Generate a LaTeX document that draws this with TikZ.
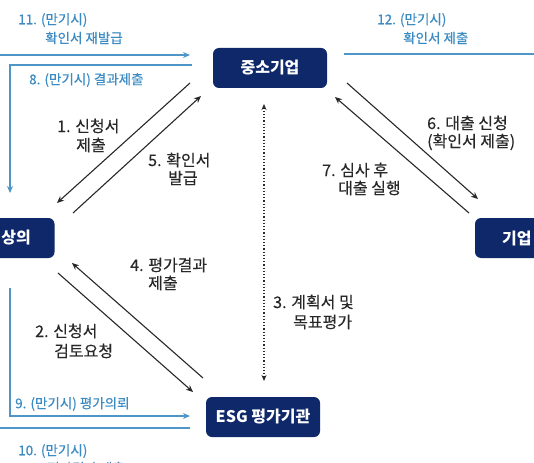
\documentclass[tikz,border=0pt]{standalone}
\usepackage{fontspec}
\setmainfont{Noto Sans CJK KR}
\newfontfamily\labfont{Noto Sans CJK KR}[FakeBold=0.3]
\usetikzlibrary{arrows.meta}
\definecolor{navy}{RGB}{14,40,105}
\definecolor{lblue}{RGB}{78,150,200}
\definecolor{tblue}{RGB}{60,140,195}
\definecolor{ink}{RGB}{40,40,40}
\tikzset{
  box/.style={fill=navy, rounded corners=6pt, minimum width=114pt, minimum height=40pt, text=white, font=\fontsize{16}{18}\selectfont\bfseries, inner sep=0pt},
  boxtext/.style={text=white, font=\fontsize{16}{18}\selectfont\bfseries, inner sep=0pt},
  lbl/.style={text=ink, font=\fontsize{16}{18}\selectfont\labfont, inner sep=0pt, anchor=west},
  blbl/.style={text=tblue, font=\fontsize{13.5}{16}\selectfont\labfont, inner sep=0pt, anchor=west},
  conn/.style={draw=ink, line width=1.1pt, -{Stealth[length=7pt,width=6pt]}},
  bconn/.style={draw=lblue, line width=1.4pt},
  barrow/.style={bconn, -{Stealth[length=7pt,width=6pt]}},
  dots/.style={draw=ink, line width=1.2pt, dotted, {Stealth[length=6pt,width=5pt]}-{Stealth[length=6pt,width=5pt]}}
}
\begin{document}
\begin{tikzpicture}[x=1pt,y=-1pt]
\useasboundingbox (0,0) rectangle (534,462);
\clip (0,0) rectangle (534,462);
\fill[white] (0,0) rectangle (534,462);

% nodes
\node[box] (sme) at (270,68) {중소기업};
\node[box, minimum width=115pt] (kcci) at (-3,238) {};
\node[boxtext, anchor=east] (kccit) at (31,238) {상의};
\node[box] (bank) at (532,238) {};
\node[boxtext, anchor=west] (bankt) at (502,238) {기업};
\node[box] (esg) at (263,417) {ESG 평가기관};

% coordinates
\coordinate (a1s) at (190,83);  \coordinate (a1e) at (57,203);
\coordinate (a5s) at (73,213);  \coordinate (a5e) at (201,96);
\coordinate (a4s) at (203,378); \coordinate (a4e) at (72,263);
\coordinate (a2s) at (58,273);  \coordinate (a2e) at (193,392);
\coordinate (a6s) at (347,83);  \coordinate (a6e) at (478,199);
\coordinate (a7s) at (469,213); \coordinate (a7e) at (335,97);
\coordinate (d1) at (264,104);  \coordinate (d2) at (264,381);
\coordinate (b11s) at (0,55);   \coordinate (b11e) at (190,55);
\coordinate (b8s) at (192,65);  \coordinate (b8c) at (10,65);  \coordinate (b8e) at (10,193);
\coordinate (b9s) at (10,288);  \coordinate (b9c) at (10,416); \coordinate (b9e) at (190,416);
\coordinate (b10s) at (0,428);  \coordinate (b10e) at (190,428);
\coordinate (b12s) at (344,54); \coordinate (b12e) at (534,54);

% black connectors
\draw[conn] (a1s) -- (a1e);
\draw[conn] (a5s) -- (a5e);
\draw[conn] (a4s) -- (a4e);
\draw[conn] (a2s) -- (a2e);
\draw[conn] (a6s) -- (a6e);
\draw[conn] (a7s) -- (a7e);
\draw[dots] (d1) -- (d2);

% blue connectors
\draw[barrow] (b11s) -- (b11e);
\draw[barrow] (b8s) -- (b8c) -- (b8e);
\draw[barrow] (b9s) -- (b9c) -- (b9e);
\draw[bconn] (b10s) -- (b10e);
\draw[bconn] (b12s) -- (b12e);

% blue labels
\node[blbl] (t11a) at (18,20) {11. (만기시)};
\node[blbl] (t11b) at (45,38) {확인서 재발급};
\node[blbl] (t8) at (29,80) {8. (만기시) 결과제출};
\node[blbl] (t12a) at (377,20) {12. (만기시)};
\node[blbl] (t12b) at (403,38) {확인서 제출};
\node[blbl] (t9) at (15,404) {9. (만기시) 평가의뢰};
\node[blbl] (t10a) at (18,451) {10. (만기시)};
\node[blbl] (t10b) at (47,468) {평가결과 제출};

% black labels
\node[lbl] (t1a) at (57,126) {1. 신청서};
\node[lbl] (t1b) at (76,145) {제출};
\node[lbl] (t5a) at (148,160) {5. 확인서};
\node[lbl] (t5b) at (168,178) {발급};
\node[lbl] (t4a) at (130,265) {4. 평가결과};
\node[lbl] (t4b) at (148,283) {제출};
\node[lbl] (t2a) at (35,331) {2. 신청서};
\node[lbl] (t2b) at (54,351) {검토요청};
\node[lbl] (t3a) at (273,302) {3. 계획서 및};
\node[lbl] (t3b) at (293,322) {목표평가};
\node[lbl] (t6a) at (427,123) {6. 대출 신청};
\node[lbl] (t6b) at (427,142) {(확인서 제출)};
\node[lbl] (t7a) at (322,170) {7. 심사 후};
\node[lbl] (t7b) at (338,188) {대출 실행};
\end{tikzpicture}
\end{document}
